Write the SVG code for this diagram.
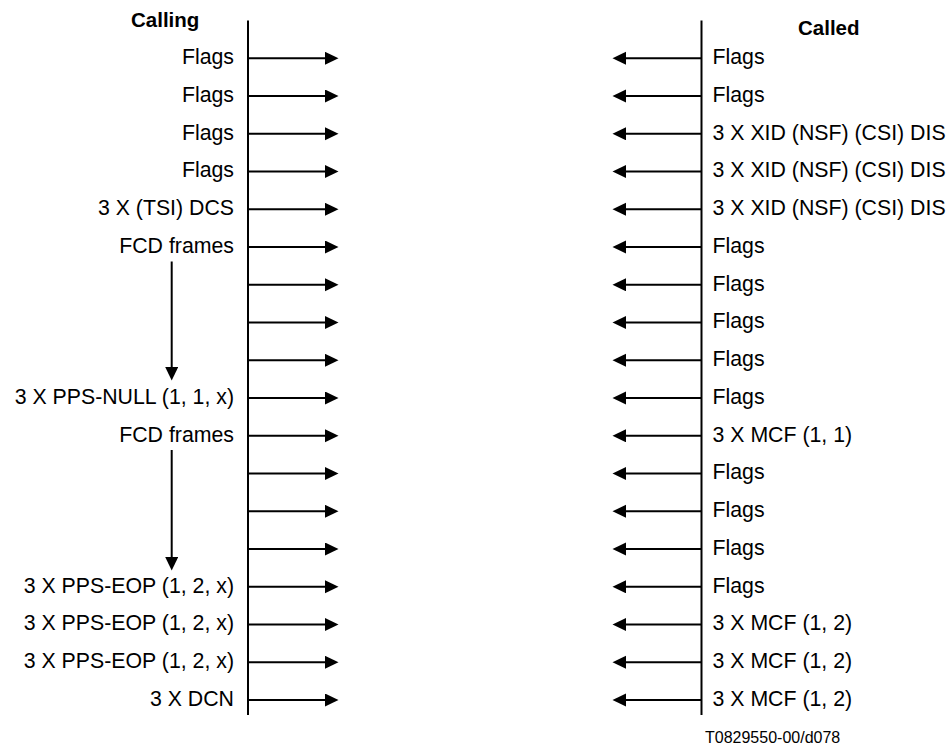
<svg xmlns="http://www.w3.org/2000/svg" width="951" height="749" viewBox="0 0 951 749">
<style>
text{font-family:"Liberation Sans",Arial,sans-serif;fill:#000}
.lbl{font-size:21.3px}
.l{text-anchor:end}
.hd{font-size:20.5px;font-weight:bold}
.ft{font-size:16px}
.life{stroke:#000;stroke-width:2;fill:none}
.c line{stroke:#000;stroke-width:2;marker-end:url(#ah)}
</style>
<defs>
<marker id="ah" markerUnits="userSpaceOnUse" markerWidth="14" markerHeight="14" refX="1" refY="6.5" orient="auto">
<path d="M0,0 L13.5,6.5 L0,13 z" fill="#000"/>
</marker>
</defs>
<rect width="951" height="749" fill="#fff"/>
<g id="calling">
<text class="hd" x="131" y="27">Calling</text>
<line class="life" x1="248" y1="20.5" x2="248" y2="715"/>
</g>
<g id="called">
<text class="hd" x="798" y="35">Called</text>
<line class="life" x1="701.5" y1="20.5" x2="701.5" y2="715"/>
</g>
<g id="connectors" class="c">
<line x1="248" y1="58.3" x2="326" y2="58.3"/>
<line x1="248" y1="96" x2="326" y2="96"/>
<line x1="248" y1="133.8" x2="326" y2="133.8"/>
<line x1="248" y1="171.5" x2="326" y2="171.5"/>
<line x1="248" y1="209.3" x2="326" y2="209.3"/>
<line x1="248" y1="247" x2="326" y2="247"/>
<line x1="248" y1="284.8" x2="326" y2="284.8"/>
<line x1="248" y1="322.5" x2="326" y2="322.5"/>
<line x1="248" y1="360.3" x2="326" y2="360.3"/>
<line x1="248" y1="398" x2="326" y2="398"/>
<line x1="248" y1="435.8" x2="326" y2="435.8"/>
<line x1="248" y1="473.5" x2="326" y2="473.5"/>
<line x1="248" y1="511.3" x2="326" y2="511.3"/>
<line x1="248" y1="549" x2="326" y2="549"/>
<line x1="248" y1="586.8" x2="326" y2="586.8"/>
<line x1="248" y1="624.5" x2="326" y2="624.5"/>
<line x1="248" y1="662.3" x2="326" y2="662.3"/>
<line x1="248" y1="700" x2="326" y2="700"/>
<line x1="701.5" y1="58.3" x2="625" y2="58.3"/>
<line x1="701.5" y1="96" x2="625" y2="96"/>
<line x1="701.5" y1="133.8" x2="625" y2="133.8"/>
<line x1="701.5" y1="171.5" x2="625" y2="171.5"/>
<line x1="701.5" y1="209.3" x2="625" y2="209.3"/>
<line x1="701.5" y1="247" x2="625" y2="247"/>
<line x1="701.5" y1="284.8" x2="625" y2="284.8"/>
<line x1="701.5" y1="322.5" x2="625" y2="322.5"/>
<line x1="701.5" y1="360.3" x2="625" y2="360.3"/>
<line x1="701.5" y1="398" x2="625" y2="398"/>
<line x1="701.5" y1="435.8" x2="625" y2="435.8"/>
<line x1="701.5" y1="473.5" x2="625" y2="473.5"/>
<line x1="701.5" y1="511.3" x2="625" y2="511.3"/>
<line x1="701.5" y1="549" x2="625" y2="549"/>
<line x1="701.5" y1="586.8" x2="625" y2="586.8"/>
<line x1="701.5" y1="624.5" x2="625" y2="624.5"/>
<line x1="701.5" y1="662.3" x2="625" y2="662.3"/>
<line x1="701.5" y1="700" x2="625" y2="700"/>
<line x1="171.7" y1="261.5" x2="171.7" y2="368"/>
<line x1="171.7" y1="450" x2="171.7" y2="558"/>
</g>
<g id="calling-labels" class="lbl l">
<text x="234" y="64">Flags</text>
<text x="234" y="101.7">Flags</text>
<text x="234" y="139.5">Flags</text>
<text x="234" y="177.2">Flags</text>
<text x="234" y="215">3 X (TSI) DCS</text>
<text x="234" y="252.7">FCD frames</text>
<text x="234" y="403.7">3 X PPS-NULL (1, 1, x)</text>
<text x="234" y="441.5">FCD frames</text>
<text x="234" y="592.5">3 X PPS-EOP (1, 2, x)</text>
<text x="234" y="630.2">3 X PPS-EOP (1, 2, x)</text>
<text x="234" y="668">3 X PPS-EOP (1, 2, x)</text>
<text x="234" y="705.7">3 X DCN</text>
</g>
<g id="called-labels" class="lbl">
<text x="712.5" y="64">Flags</text>
<text x="712.5" y="101.7">Flags</text>
<text x="712.5" y="139.5">3 X XID (NSF) (CSI) DIS</text>
<text x="712.5" y="177.2">3 X XID (NSF) (CSI) DIS</text>
<text x="712.5" y="215">3 X XID (NSF) (CSI) DIS</text>
<text x="712.5" y="252.7">Flags</text>
<text x="712.5" y="290.5">Flags</text>
<text x="712.5" y="328.2">Flags</text>
<text x="712.5" y="366">Flags</text>
<text x="712.5" y="403.7">Flags</text>
<text x="712.5" y="441.5">3 X MCF (1, 1)</text>
<text x="712.5" y="479.2">Flags</text>
<text x="712.5" y="517">Flags</text>
<text x="712.5" y="554.7">Flags</text>
<text x="712.5" y="592.5">Flags</text>
<text x="712.5" y="630.2">3 X MCF (1, 2)</text>
<text x="712.5" y="668">3 X MCF (1, 2)</text>
<text x="712.5" y="705.7">3 X MCF (1, 2)</text>
</g>
<text class="ft" x="705" y="743">T0829550-00/d078</text>
</svg>
